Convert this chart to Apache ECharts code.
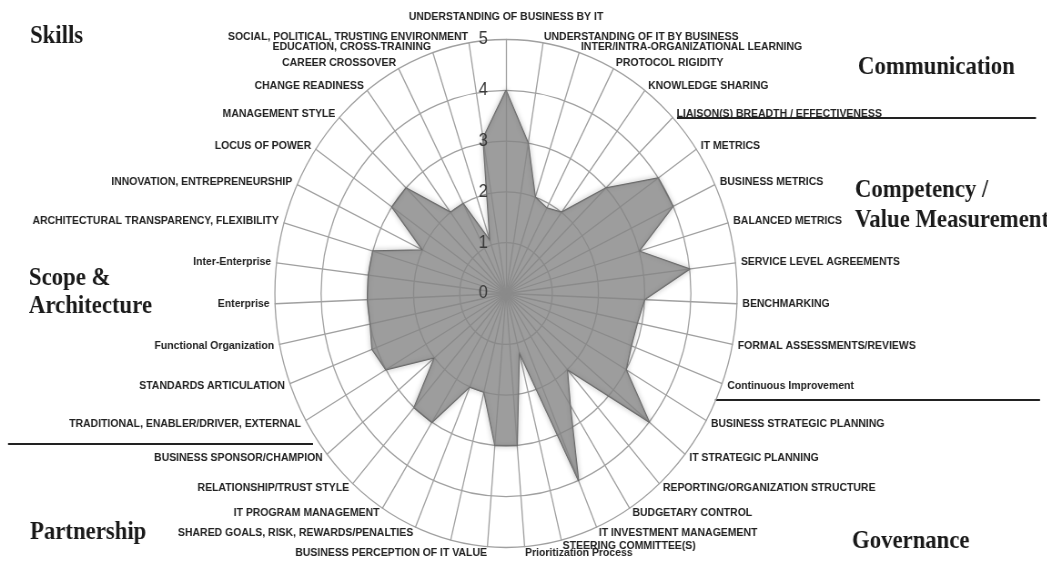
<!DOCTYPE html>
<html><head><meta charset="utf-8">
<script src="https://cdn.jsdelivr.net/npm/echarts@6/dist/echarts.min.js"></script>
<style>
html,body{margin:0;padding:0;background:#fff;overflow:hidden;width:1047px;height:571px}
#wrap{width:1047px;height:571px;overflow:hidden;position:relative}
#c{position:absolute;left:0;top:0;width:1151px;height:571px;transform:scaleX(0.91);transform-origin:0 0}
</style></head><body><div id="wrap"><div id="c"></div></div>
<script>
// Categories clockwise from the top
const categories = [
  'UNDERSTANDING OF BUSINESS BY IT','UNDERSTANDING OF IT BY BUSINESS','INTER/INTRA-ORGANIZATIONAL LEARNING',
  'PROTOCOL RIGIDITY','KNOWLEDGE SHARING','LIAISON(S) BREADTH / EFFECTIVENESS',
  'IT METRICS','BUSINESS METRICS','BALANCED METRICS','SERVICE LEVEL AGREEMENTS','BENCHMARKING',
  'FORMAL ASSESSMENTS/REVIEWS','Continuous Improvement',
  'BUSINESS STRATEGIC PLANNING','IT STRATEGIC PLANNING','REPORTING/ORGANIZATION STRUCTURE',
  'BUDGETARY CONTROL','IT INVESTMENT MANAGEMENT','STEERING COMMITTEE(S)','Prioritization Process',
  'BUSINESS PERCEPTION OF IT VALUE','','SHARED GOALS, RISK, REWARDS/PENALTIES','IT PROGRAM MANAGEMENT',
  'RELATIONSHIP/TRUST STYLE','BUSINESS SPONSOR/CHAMPION',
  'TRADITIONAL, ENABLER/DRIVER, EXTERNAL','STANDARDS ARTICULATION','Functional Organization',
  'Enterprise','Inter-Enterprise','ARCHITECTURAL TRANSPARENCY, FLEXIBILITY',
  'INNOVATION, ENTREPRENEURSHIP','LOCUS OF POWER','MANAGEMENT STYLE','CHANGE READINESS',
  'CAREER CROSSOVER','EDUCATION, CROSS-TRAINING','SOCIAL, POLITICAL, TRUSTING ENVIRONMENT'
];
const values = [
  4.0, 3.0, 2.0, 1.9, 2.0, 3.0,
  4.0, 4.0, 3.0, 4.0, 3.0, 2.9, 2.9,
  3.0, 4.0, 2.0, 2.6, 4.0, 1.2, 3.0,
  3.0, 2.0, 2.0, 3.0, 3.0, 2.0,
  3.0, 3.1, 3.0, 3.0, 3.0, 3.0,
  2.0, 3.0, 3.0, 2.0, 2.0, 1.1, 3.1
];
const scaleMin = 0, scaleMax = 5, scaleSteps = 5;
const groupTitles = ['Skills','Communication','Competency /','Value Measurement','Scope &','Architecture','Partnership','Governance'];

const SX = 0.91;               // horizontal squeeze of the original picture
const X = v => v / SX;         // convert picture x to unscaled page x
const n = categories.length;
// ECharts lays radar indicators counter-clockwise: reorder so they run clockwise
const order = [0];
for (let i = n - 1; i >= 1; i--) order.push(i);
const indicator = order.map(i => {
  const o = { name: categories[i], min: scaleMin, max: scaleMax };
  if (i === 0) o.nameGap = 17;
  return o;
});
// a second, label-only radar drawn above the area so the tick numbers stay dark
const labelIndicator = order.map(i => {
  const o = { name: '', min: scaleMin, max: scaleMax };
  if (i === 0) o.axisLabel = { show: true };
  return o;
});
const seriesValues = order.map(i => values[i]);

const titleFont = { fontFamily: 'Liberation Serif, serif', fontWeight: 'bold', fontSize: 25, fill: '#1a1a1a' };
function title(text, x, y) {
  return { type: 'text', x: X(x), y: y, style: Object.assign({ text: text, verticalAlign: 'middle', align: 'left' }, titleFont) };
}
function rule(x1, x2, y) {
  return { type: 'line', shape: { x1: X(x1), y1: y, x2: X(x2), y2: y }, style: { stroke: '#222', lineWidth: 2 } };
}
const center = [X(506), 293.5], radius = 254;

const chart = echarts.init(document.getElementById('c'), null, { renderer: 'canvas' });
chart.setOption({
  animation: false,
  backgroundColor: '#fff',
  radar: [{
    center: center,
    radius: radius,
    startAngle: 90,
    splitNumber: scaleSteps,
    shape: 'circle',
    axisNameGap: 6,
    axisName: { color: '#222', fontSize: 11.5, fontWeight: 'bold', fontFamily: 'Liberation Sans, Arial, sans-serif' },
    splitLine: { lineStyle: { color: '#a0a0a0', width: 1.3 } },
    splitArea: { show: false },
    axisLine: { lineStyle: { color: '#a0a0a0', width: 1.3 } },
    axisTick: { show: false },
    axisLabel: { show: false },
    indicator: indicator
  }, {
    z: 10,
    center: center,
    radius: radius,
    startAngle: 90,
    splitNumber: scaleSteps,
    shape: 'circle',
    axisName: { show: false },
    splitLine: { show: false },
    splitArea: { show: false },
    axisLine: { show: false },
    axisTick: { show: false },
    axisLabel: { show: false, fontSize: 18, color: '#3a3a3a', fontFamily: 'Liberation Sans, Arial, sans-serif', margin: 20 },
    indicator: labelIndicator
  }],
  graphic: [
    title(groupTitles[0], 30, 37),
    title(groupTitles[1], 858, 68),
    title(groupTitles[2], 855, 191),
    title(groupTitles[3], 855, 221),
    title(groupTitles[4], 29, 279),
    title(groupTitles[5], 29, 307),
    title(groupTitles[6], 30, 533),
    title(groupTitles[7], 852, 542),
    rule(677, 1036, 118),
    rule(715, 1040, 400),
    rule(8, 313, 444)
  ],
  series: [{
    type: 'radar',
    radarIndex: 0,
    symbol: 'none',
    data: [{ value: seriesValues }],
    lineStyle: { color: '#666', width: 1.5, shadowBlur: 5, shadowColor: 'rgba(0,0,0,0.45)' },
    areaStyle: { color: '#858585', opacity: 0.8 }
  }]
});
</script></body></html>
